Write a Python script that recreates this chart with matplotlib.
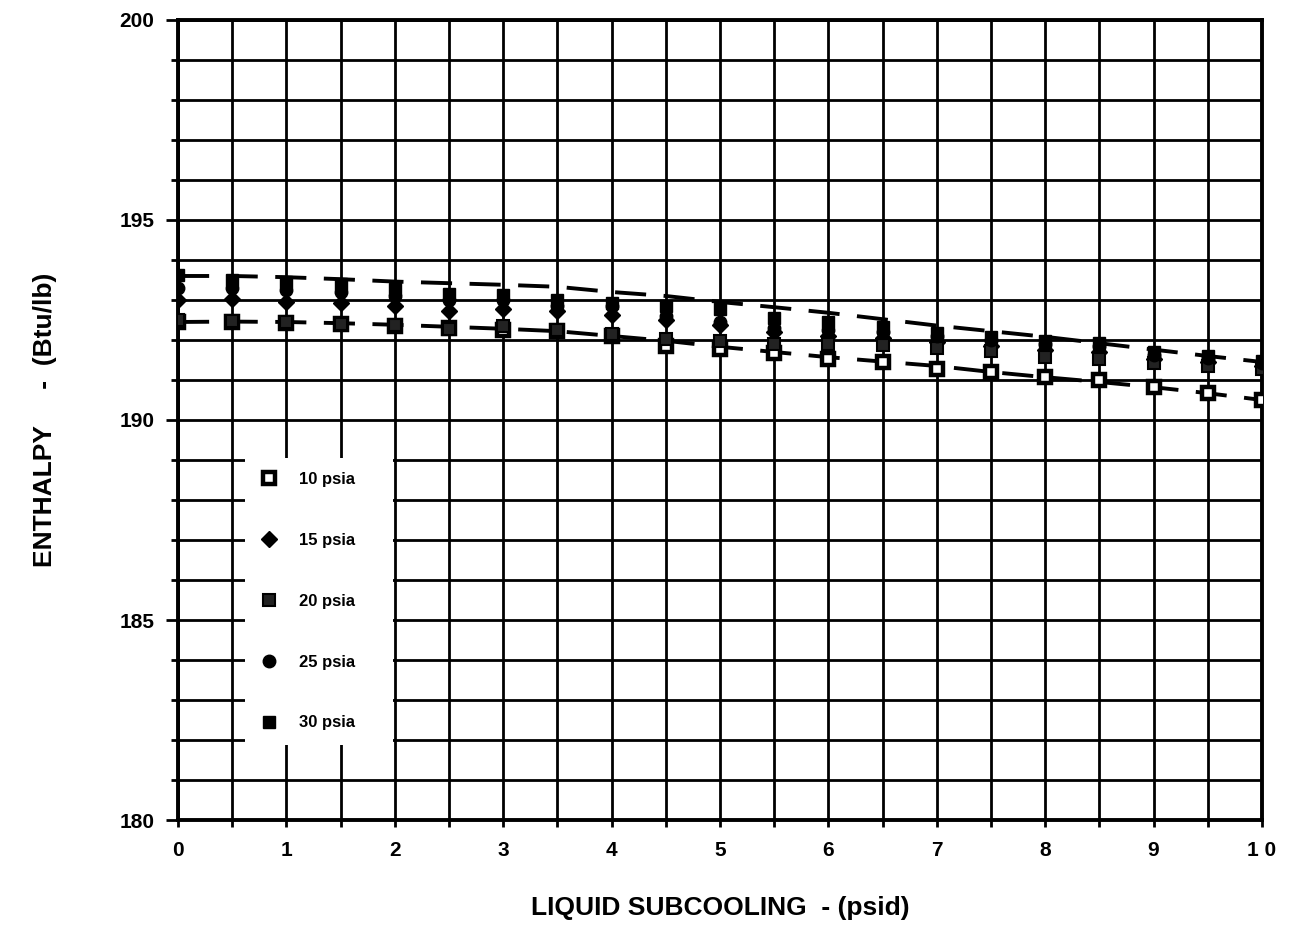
import numpy as np
import matplotlib
matplotlib.use('Agg')
import matplotlib.pyplot as plt
from matplotlib.ticker import MultipleLocator, FixedLocator

plt.rcParams['font.family'] = ['Liberation Sans', 'DejaVu Sans']
plt.rcParams['font.weight'] = 'bold'

# subcooling (psid)
subcool = [0, 0.5, 1, 1.5, 2, 2.5, 3, 3.5, 4, 4.5, 5, 5.5, 6, 6.5, 7, 7.5, 8, 8.5, 9, 9.5, 10]

# enthalpy (Btu/lb)
h_10 = [192.45, 192.46, 192.43, 192.40, 192.35, 192.30, 192.25, 192.22, 192.10, 191.85, 191.77,
        191.68, 191.52, 191.45, 191.28, 191.20, 191.07, 191.00, 190.82, 190.68, 190.50]
h_15 = [193.00, 193.03, 192.95, 192.92, 192.85, 192.72, 192.78, 192.72, 192.62, 192.50, 192.38,
        192.20, 192.10, 192.05, 191.95, 191.85, 191.75, 191.70, 191.52, 191.45, 191.35]
h_20 = [192.50, 192.47, 192.45, 192.40, 192.37, 192.28, 192.35, 192.25, 192.15, 192.02, 191.98,
        191.90, 191.90, 191.87, 191.80, 191.72, 191.58, 191.52, 191.42, 191.35, 191.28]
h_25 = [193.30, 193.30, 193.25, 193.20, 193.10, 193.00, 193.00, 192.85, 192.85, 192.60, 192.45,
        192.30, 192.25, 192.20, 192.10, 192.00, 191.90, 191.85, 191.62, 191.55, 191.42]
h_30 = [193.62, 193.50, 193.45, 193.40, 193.28, 193.15, 193.12, 193.00, 192.92, 192.85, 192.78,
        192.55, 192.45, 192.32, 192.18, 192.08, 191.97, 191.92, 191.70, 191.60, 191.48]

# dashed curves
fit_hi = [193.60, 193.60, 193.57, 193.52, 193.46, 193.42, 193.38, 193.33, 193.20, 193.10, 192.95,
          192.82, 192.68, 192.52, 192.36, 192.22, 192.08, 191.92, 191.76, 191.60, 191.45]
fit_lo = [192.45, 192.46, 192.45, 192.42, 192.38, 192.33, 192.28, 192.22, 192.10, 191.98, 191.83,
          191.70, 191.57, 191.46, 191.35, 191.20, 191.07, 190.95, 190.82, 190.67, 190.50]

x_labels = ['0', '1', '2', '3', '4', '5', '6', '7', '8', '9', '1 0']
y_ticks = [180, 185, 190, 195, 200]

fig = plt.figure(figsize=(12.91, 9.33), dpi=100)
ax = fig.add_axes([0.1379, 0.1211, 0.8396, 0.8575])

for y in (fit_hi, fit_lo):
    ax.plot(subcool, y, color='black', lw=2.8, dashes=(8, 4.5), zorder=3)

ms = 9
ax.plot(subcool, h_10, 's', ms=ms, mfc='white', mec='black', mew=3.2, label='10 psia     ', zorder=4)
ax.plot(subcool, h_15, 'D', ms=ms - 1, color='black', label='15 psia     ', zorder=4)
ax.plot(subcool, h_20, 's', ms=ms, mfc='#222222', mec='black', mew=1.5, label='20 psia     ', zorder=4)
ax.plot(subcool, h_25, 'o', ms=ms, color='black', label='25 psia     ', zorder=4)
ax.plot(subcool, h_30, 's', ms=ms, color='black', label='30 psia     ', zorder=4)

ax.set_xlim(0, 10); ax.set_ylim(180, 200)
ax.xaxis.set_major_locator(FixedLocator(range(11)))
ax.set_xticklabels(x_labels)
ax.xaxis.set_minor_locator(MultipleLocator(0.5))
ax.set_yticks(y_ticks)
ax.yaxis.set_minor_locator(MultipleLocator(1))
ax.grid(which='both', color='black', lw=2.0, zorder=1)
ax.set_axisbelow(True)
for s in ax.spines.values(): s.set_linewidth(2.8)
ax.tick_params(axis='y', which='major', length=9, width=2, labelsize=15, pad=8)
ax.tick_params(axis='y', which='minor', length=5, width=2)
ax.tick_params(axis='x', which='both', length=5, width=2, labelsize=15, pad=10)

ax.set_xlabel('LIQUID SUBCOOLING  - (psid)', fontsize=19, fontweight='bold')
ax.xaxis.set_label_coords(0.5, -0.095)
ax.set_ylabel('ENTHALPY     -  (Btu/lb)', fontsize=19, fontweight='bold')
ax.yaxis.set_label_coords(-0.112, 0.5)

leg = ax.legend(loc='upper left', bbox_to_anchor=(0.062, 0.4525), frameon=True, framealpha=1,
                facecolor='white', edgecolor='none', fancybox=False, fontsize=12,
                labelspacing=2.75, handletextpad=1.2, handlelength=1.2, borderpad=0.85,
                borderaxespad=0)
leg.set_zorder(5)
for t in leg.get_texts(): t.set_fontweight('bold')

fig.savefig('out.png', dpi=100)
